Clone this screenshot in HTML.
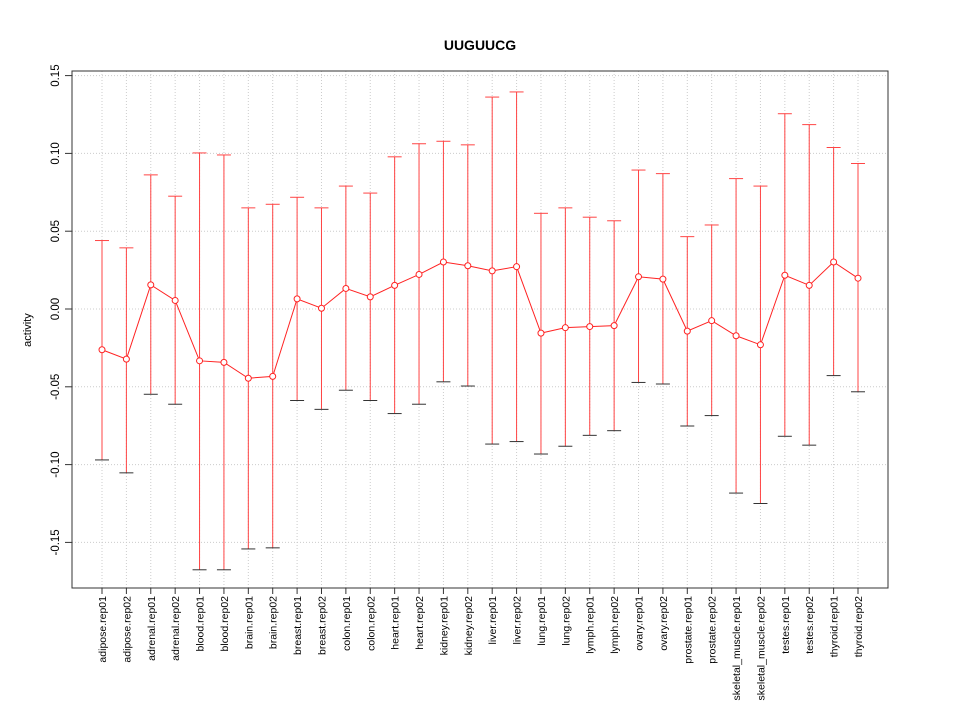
<!DOCTYPE html>
<html><head><meta charset="utf-8"><style>
body{margin:0;background:#fff}
svg text{font-family:"Liberation Sans",sans-serif}
</style></head><body>
<svg id="chart" width="960" height="720" xmlns="http://www.w3.org/2000/svg"></svg>
<script>
const categories=["adipose.rep01","adipose.rep02","adrenal.rep01","adrenal.rep02","blood.rep01","blood.rep02","brain.rep01","brain.rep02","breast.rep01","breast.rep02","colon.rep01","colon.rep02","heart.rep01","heart.rep02","kidney.rep01","kidney.rep02","liver.rep01","liver.rep02","lung.rep01","lung.rep02","lymph.rep01","lymph.rep02","ovary.rep01","ovary.rep02","prostate.rep01","prostate.rep02","skeletal_muscle.rep01","skeletal_muscle.rep02","testes.rep01","testes.rep02","thyroid.rep01","thyroid.rep02"];
const values=[-0.0262,-0.0322,0.0155,0.0055,-0.0333,-0.0343,-0.0445,-0.0433,0.0065,0.0005,0.0132,0.0078,0.0152,0.0222,0.0302,0.0278,0.0245,0.0272,-0.0155,-0.012,-0.0113,-0.0107,0.0207,0.0192,-0.0142,-0.0075,-0.0172,-0.0230,0.0217,0.0152,0.0302,0.0198];
const upper=[0.044,0.0393,0.0862,0.0725,0.1003,0.099,0.065,0.0673,0.0718,0.065,0.079,0.0745,0.0978,0.1062,0.1078,0.1055,0.1362,0.1395,0.0615,0.065,0.059,0.0567,0.0893,0.087,0.0465,0.054,0.0838,0.079,0.1255,0.1185,0.1038,0.0935];
const lower=[-0.097,-0.1053,-0.0548,-0.0612,-0.1676,-0.1676,-0.1542,-0.1535,-0.0588,-0.0645,-0.0522,-0.0588,-0.0672,-0.0612,-0.0468,-0.0495,-0.0868,-0.0852,-0.0932,-0.0882,-0.0812,-0.0782,-0.0472,-0.0482,-0.0752,-0.0685,-0.1183,-0.1250,-0.0818,-0.0875,-0.0428,-0.0532];
const yTicks=[-0.15,-0.10,-0.05,0.00,0.05,0.10,0.15];
const yTickLabels=["-0.15","-0.10","-0.05","0.00","0.05","0.10","0.15"];

const svg=document.getElementById('chart');
const NS="http://www.w3.org/2000/svg";
const L=72,R=888,T=71,B=588;
const x=i=>102+i*(858-102)/(categories.length-1);
const y=v=>309-v*(77.8/0.05);
function mk(tag,attrs,parent){const e=document.createElementNS(NS,tag);for(const k in attrs)e.setAttribute(k,attrs[k]);(parent||svg).appendChild(e);return e;}

const grid=mk('g',{});


categories.forEach((c,i)=>{mk('line',{x1:x(i),x2:x(i),y1:T,y2:B,stroke:'#ccc','stroke-dasharray':'1,2'},grid);});
yTicks.forEach(t=>{mk('line',{x1:L,x2:R,y1:y(t),y2:y(t),stroke:'#ccc','stroke-dasharray':'1,2'},grid);});

const box=mk('rect',{x:L,y:T,width:R-L,height:B-T,fill:'none',stroke:'#333'});



const yax=mk('g',{});


yTicks.forEach((t,i)=>{
  mk('line',{x1:L-7,x2:L,y1:y(t),y2:y(t),stroke:'#333'},yax);
  const tx=mk('text',{x:0,y:0,transform:`translate(${L-13},${y(t)}) rotate(-90)`,'text-anchor':'middle','font-size':11.5},yax);
  tx.textContent=yTickLabels[i];
  
  
});
const yt=mk('text',{transform:'translate(31,330) rotate(-90)','text-anchor':'middle','font-size':11});
yt.textContent='activity';



const title=mk('text',{x:480,y:50,'text-anchor':'middle','font-size':14,'font-weight':'bold'});
title.textContent='UUGUUCG';



const xax=mk('g',{});


categories.forEach((c,i)=>{
  mk('line',{x1:x(i),x2:x(i),y1:B,y2:B+6,stroke:'#333'},xax);
  const tx=mk('text',{transform:`translate(${x(i)+4},${B+8}) rotate(-90)`,'text-anchor':'end','font-size':10.5},xax);
  tx.textContent=c;
  
  
});

const series=mk('g',{});


categories.forEach((c,i)=>{
  const eb=mk('g',{},series);
  
  
  mk('line',{x1:x(i),x2:x(i),y1:y(upper[i]),y2:y(lower[i]),stroke:'#f44'},eb);
  mk('line',{x1:x(i)-7,x2:x(i)+7,y1:y(upper[i]),y2:y(upper[i]),stroke:'#f44'},eb);
  mk('line',{x1:x(i)-7,x2:x(i)+7,y1:y(lower[i]),y2:y(lower[i]),stroke:'#333'},eb);
});
const pts=values.map((v,i)=>x(i)+','+y(v)).join(' ');
const line=mk('polyline',{points:pts,fill:'none',stroke:'#f22'},series);


values.forEach((v,i)=>{
  const p=mk('circle',{cx:x(i),cy:y(v),r:3,fill:'#fff',stroke:'#f22'},series);
  
  
});
</script>
</body></html>
